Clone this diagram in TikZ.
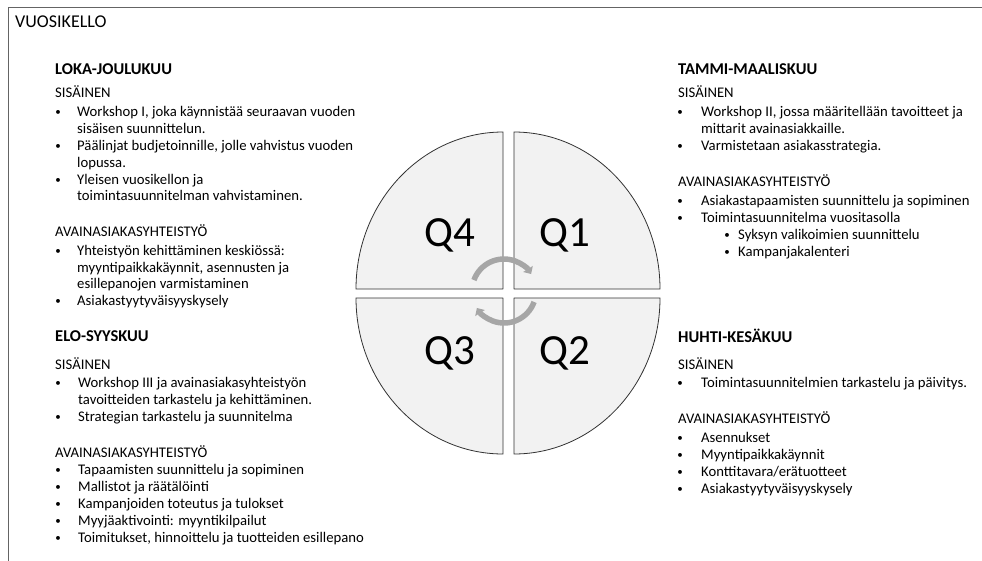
\documentclass[tikz,border=0pt]{standalone}
\usepackage{fontspec}
\setmainfont{Carlito}
\usetikzlibrary{arrows.meta}

\definecolor{framegray}{RGB}{100,100,100}
\definecolor{quadfill}{RGB}{242,242,242}
\definecolor{quadline}{RGB}{50,50,50}
\definecolor{cyclegray}{RGB}{166,166,166}

\tikzset{
  pagetitle/.style={anchor=base west,inner sep=0pt,font=\fontsize{18}{21}\selectfont},
  season/.style={anchor=base west,inner sep=0pt,font=\fontsize{16.5}{19}\selectfont\bfseries},
  bodytext/.style={anchor=base west,inner sep=0pt,font=\fontsize{14.7}{17}\selectfont},
  dotmark/.style={anchor=base,inner sep=0pt,font=\fontsize{11}{13}\selectfont},
  quarter/.style={fill=quadfill,draw=quadline,line width=0.8pt,line join=round},
  qlabel/.style={anchor=base,inner sep=0pt,font=\fontsize{43}{48}\selectfont},
  cyclearrow/.style={draw=cyclegray,line width=5.5pt,-{Triangle[width=11pt,length=6pt]}},
}

% bullet line: name, bullet x, text x, baseline y, text
\newcommand\bulletline[5]{%
  \node[dotmark] (#1b) at (#2,{#4-1}) {•};
  \node[bodytext] (#1) at (#3,#4) {#5};}
% plain line: name, x, baseline y, text
\newcommand\plainline[4]{\node[bodytext] (#1) at (#2,#3) {#4};}

\begin{document}
\begin{tikzpicture}[x=1pt,y=-1pt]
\useasboundingbox (0,0) rectangle (982,560);

% slide frame (only top and left edges fall inside the page)
\draw[framegray,line width=1.3pt] (8.5,580) -- (8.5,7.5) -- (1000,7.5);

\node[pagetitle] (title) at (15,27) {VUOSIKELLO};

% ---- year clock: four quarters ----
\path[quarter] (514,289) -- (514,132) arc[start angle=-90,end angle=0,x radius=146,y radius=157] -- cycle;
\path[quarter] (514,298) -- (660,298) arc[start angle=0,end angle=90,x radius=146,y radius=156] -- cycle;
\path[quarter] (503,298) -- (503,454) arc[start angle=90,end angle=180,x radius=147,y radius=156] -- cycle;
\path[quarter] (503,289) -- (356,289) arc[start angle=180,end angle=270,x radius=147,y radius=157] -- cycle;

\node[qlabel] (q4) at (449.5,246) {Q4};
\node[qlabel] (q1) at (564.5,246) {Q1};
\node[qlabel] (q3) at (449.5,364) {Q3};
\node[qlabel] (q2) at (564.5,364) {Q2};

% clockwise cycle arrows
\coordinate (cyc) at (504,291);
\draw[cyclearrow] ([shift={(-160:32)}]cyc) arc[start angle=-160,end angle=-32,radius=32];
\draw[cyclearrow] ([shift={(20:32)}]cyc) arc[start angle=20,end angle=148,radius=32];

% ---- Q4: loka-joulukuu ----
\node[season] (s4) at (55,74) {LOKA-JOULUKUU};
\plainline{s4in}{55}{97.5}{SISÄINEN}
\bulletline{a1}{58}{77}{116.5}{Workshop I, joka käynnistää seuraavan vuoden}
\plainline{a1c}{77}{133.5}{sisäisen suunnittelun.}
\bulletline{a2}{58}{77}{150.5}{Päälinjat budjetoinnille, jolle vahvistus vuoden}
\plainline{a2c}{77}{167.5}{lopussa.}
\bulletline{a3}{58}{77}{184}{Yleisen vuosikellon ja}
\plainline{a3c}{77}{200.5}{toimintasuunnitelman vahvistaminen.}
\plainline{s4ext}{55}{236.5}{AVAINASIAKASYHTEISTYÖ}
\bulletline{b1}{58}{77}{255.5}{Yhteistyön kehittäminen keskiössä:}
\plainline{b1c}{77}{272}{myyntipaikkakäynnit, asennusten ja}
\plainline{b1d}{77}{288.5}{esillepanojen varmistaminen}
\bulletline{b2}{58}{77}{305}{Asiakastyytyväisyyskysely}

% ---- Q3: elo-syyskuu ----
\node[season] (s3) at (55,341) {ELO-SYYSKUU};
\plainline{s3in}{55}{369.5}{SISÄINEN}
\bulletline{c1}{58}{78}{387.5}{Workshop III ja avainasiakasyhteistyön}
\plainline{c1c}{78}{404.5}{tavoitteiden tarkastelu ja kehittäminen.}
\bulletline{c2}{58}{78}{421.5}{Strategian tarkastelu ja suunnitelma}
\plainline{s3ext}{55}{457.5}{AVAINASIAKASYHTEISTYÖ}
\bulletline{d1}{58}{78}{474.5}{Tapaamisten suunnittelu ja sopiminen}
\bulletline{d2}{58}{78}{491.5}{Mallistot ja räätälöinti}
\bulletline{d3}{58}{78}{508.5}{Kampanjoiden toteutus ja tulokset}
\bulletline{d4}{58}{78}{525.5}{Myyjäaktivointi: myyntikilpailut}
\bulletline{d5}{58}{78}{542.5}{Toimitukset, hinnoittelu ja tuotteiden esillepano}

% ---- Q1: tammi-maaliskuu ----
\node[season] (s1) at (678,74) {TAMMI-MAALISKUU};
\plainline{s1in}{678}{97.5}{SISÄINEN}
\bulletline{e1}{680}{701}{116}{Workshop II, jossa määritellään tavoitteet ja}
\plainline{e1c}{701}{133}{mittarit avainasiakkaille.}
\bulletline{e2}{680}{701}{150}{Varmistetaan asiakasstrategia.}
\plainline{s1ext}{678}{186}{AVAINASIAKASYHTEISTYÖ}
\bulletline{f1}{680}{701}{205}{Asiakastapaamisten suunnittelu ja sopiminen}
\bulletline{f2}{680}{701}{222}{Toimintasuunnitelma vuositasolla}
\bulletline{f3}{727}{738}{239}{Syksyn valikoimien suunnittelu}
\bulletline{f4}{727}{738}{256}{Kampanjakalenteri}

% ---- Q2: huhti-kesäkuu ----
\node[season] (s2) at (678,342) {HUHTI-KESÄKUU};
\plainline{s2in}{678}{369.5}{SISÄINEN}
\bulletline{g1}{680}{701}{387.5}{Toimintasuunnitelmien tarkastelu ja päivitys.}
\plainline{s2ext}{678}{423.5}{AVAINASIAKASYHTEISTYÖ}
\bulletline{h1}{680}{701}{442.5}{Asennukset}
\bulletline{h2}{680}{701}{459.5}{Myyntipaikkakäynnit}
\bulletline{h3}{680}{701}{476.5}{Konttitavara/erätuotteet}
\bulletline{h4}{680}{701}{493.5}{Asiakastyytyväisyyskysely}
\end{tikzpicture}
\end{document}
